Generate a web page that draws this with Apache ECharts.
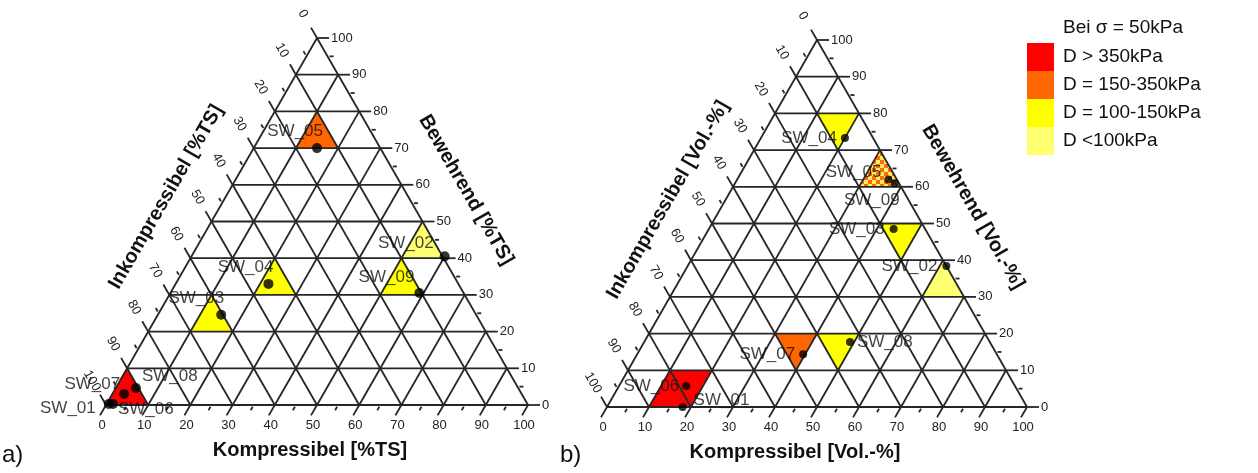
<!DOCTYPE html>
<html>
<head>
<meta charset="UTF-8">
<title>Dreiecksdiagramme</title>
<script src="https://cdn.jsdelivr.net/npm/echarts@6/dist/echarts.min.js"></script>
<style>
    html, body { margin: 0; padding: 0; background: #fff; }
    #chart { width: 1258px; height: 473px; }
</style>
</head>
<body>
<div id="chart"></div>
<script>
    // Achsenteilung (alle drei Seiten)
    const majorTicks = [0, 10, 20, 30, 40, 50, 60, 70, 80, 90, 100];
    const minorTicks = [5, 15, 25, 35, 45, 55, 65, 75, 85, 95];

    // a) Anteile in %TS  (Inkompressibel = 100 - K - B)
    const namesA = ['SW_01', 'SW_06', 'SW_07', 'SW_08', 'SW_03', 'SW_04', 'SW_09', 'SW_02', 'SW_05'];
    const kompA  = [0.5, 1.5, 2.8, 4.8, 15, 22, 59, 60, 15];
    const bewA   = [0.3, 0.3, 3, 4.6, 24.6, 33, 30.5, 40.5, 70];

    // b) Anteile in Vol.-%
    const namesB = ['SW_01', 'SW_06', 'SW_07', 'SW_08', 'SW_02', 'SW_03', 'SW_09', 'SW_05', 'SW_04'];
    const kompB  = [18, 16, 39.5, 49, 61.6, 44, 38, 36, 20];
    const bewB   = [0, 5.7, 14.4, 17.7, 38.4, 48.5, 61, 62, 73.3];

    // Felder (Ecken als [Kompressibel, Bewehrend]) und Klasse
    const cellsA = [
        [[0, 0], [10, 0], [0, 10]],
        [[10, 20], [20, 20], [10, 30]],
        [[20, 30], [30, 30], [20, 40]],
        [[50, 30], [60, 30], [50, 40]],
        [[50, 40], [60, 40], [50, 50]],
        [[10, 70], [20, 70], [10, 80]]
    ];
    const classA = ['gt350', '100-150', '100-150', '100-150', 'lt100', '150-350'];

    const cellsB = [
        [[10, 0], [20, 0], [20, 10], [10, 10]],
        [[30, 20], [40, 20], [40, 10]],
        [[40, 20], [50, 20], [50, 10]],
        [[60, 30], [70, 30], [60, 40]],
        [[40, 50], [50, 50], [50, 40]],
        [[30, 60], [40, 60], [30, 70]],
        [[10, 80], [20, 80], [20, 70]]
    ];
    const classB = ['gt350', '150-350', '100-150', 'lt100', '100-150', 'mixed', '100-150'];

    const legendTitle = 'Bei \u03c3 = 50kPa';
    const legendClasses = ['gt350', '150-350', '100-150', 'lt100'];
    const legendLabels = ['D > 350kPa', 'D = 150-350kPa', 'D = 100-150kPa', 'D <100kPa'];

    // Beschriftungen der Punkte: [Ausrichtung, dx, dy]
    const placeA = {
        SW_05: ['right', 6, -17], SW_02: ['right', -11, -13], SW_09: ['right', -5, -16],
        SW_04: ['right', 5, -17], SW_03: ['right', 3, -16], SW_01: ['right', -13, 4],
        SW_07: ['right', -4, -10], SW_08: ['left', 6, -12], SW_06: ['left', 5, 5]
    };
    const placeB = {
        SW_04: ['right', -8, 0], SW_05: ['right', -7, -7], SW_09: ['right', 5, 17],
        SW_03: ['right', -9, 0], SW_02: ['right', -9, 0], SW_08: ['left', 7, 0],
        SW_07: ['right', -8, 0], SW_06: ['right', -7, 0], SW_01: ['left', 11, -7]
    };

    const FONT = '"Liberation Sans", Arial, sans-serif';
    const LINE = '#262626';
    const H = Math.sqrt(3) / 2;

    // Schachbrett fuer gemischte Klasse
    const pat = document.createElement('canvas');
    pat.width = 8; pat.height = 8;
    const pc = pat.getContext('2d');
    pc.fillStyle = '#ffef5a'; pc.fillRect(0, 0, 8, 8);
    pc.fillStyle = '#ff6a10'; pc.fillRect(0, 0, 4, 4); pc.fillRect(4, 4, 4, 4);

    const classColor = {
        'gt350': '#ff0000',
        '150-350': '#ff6600',
        '100-150': '#ffff00',
        'lt100': '#ffff72',
        'mixed': { image: pat, repeat: 'repeat' }
    };

    function toXY(k, b) {
        return [k + b / 2, b * H];
    }

    function frameItem(params, api) {
        const v = api.value(0);
        const major = api.value(1) === 1;
        const P = (k, b) => api.coord(toXY(k, b));
        const len = major ? 12 : 6;
        const off = major ? 0 : 2;
        const out = [];
        const seg = (p, q) => out.push({
            type: 'line', shape: { x1: p[0], y1: p[1], x2: q[0], y2: q[1] },
            style: { stroke: LINE, lineWidth: 1.8 }
        });

        const bl = P(0, v), br = P(100 - v, v);          // Bewehrend = v
        const kb = P(v, 0), kt = P(v, 100 - v);          // Kompressibel = v
        const il = P(0, 100 - v), ib = P(100 - v, 0);    // Inkompressibel = v

        if (major && v < 100) {
            seg(bl, br);
            seg(kb, kt);
            seg(il, ib);
        }
        // Teilstriche
        seg([br[0] + off, br[1]], [br[0] + len, br[1]]);
        seg([kb[0] - 0.5 * off, kb[1] + H * off], [kb[0] - 0.5 * len, kb[1] + H * len]);
        seg([il[0] - 0.5 * off, il[1] - H * off], [il[0] - 0.5 * len, il[1] - H * len]);

        if (major) {
            const st = { fill: '#222', font: '13px ' + FONT, verticalAlign: 'middle' };
            out.push({ type: 'text', x: br[0] + len + 2, y: br[1],
                style: Object.assign({ text: String(v), align: 'left' }, st) });
            out.push({ type: 'text', x: kb[0] - 4, y: kb[1] + 20,
                style: Object.assign({ text: String(v), align: 'center' }, st) });
            out.push({ type: 'text', x: il[0] - 0.5 * 28, y: il[1] - H * 28, rotation: -Math.PI / 3,
                style: Object.assign({ text: String(v), align: 'center' }, st) });
        }
        return { type: 'group', children: out };
    }

    function cellRenderer(cells, classes) {
        return function (params, api) {
            const i = api.value(0);
            const pts = cells[i].map(c => api.coord(toXY(c[0], c[1])));
            return {
                type: 'polygon',
                shape: { points: pts },
                style: { fill: classColor[classes[i]], stroke: 'none' }
            };
        };
    }

    function pointData(names, komp, bew, place, size) {
        const half = size / 2;
        return names.map((n, i) => {
            const p = place[n];
            return {
                name: n,
                value: toXY(komp[i], bew[i]),
                label: { position: [half + p[1], half + p[2]], align: p[0] }
            };
        });
    }

    const frameData = majorTicks.map(t => [t, 1]).concat(minorTicks.map(t => [t, 0]));

    function plotSeries(idx, cells, classes, names, komp, bew, place, size) {
        return [
            {
                type: 'custom', xAxisIndex: idx, yAxisIndex: idx, z: 1, silent: true,
                renderItem: cellRenderer(cells, classes),
                data: cells.map((c, i) => [i, 0])
            },
            {
                type: 'custom', xAxisIndex: idx, yAxisIndex: idx, z: 2, silent: true,
                renderItem: frameItem, data: frameData
            },
            {
                type: 'scatter', xAxisIndex: idx, yAxisIndex: idx, z: 3,
                symbolSize: size, itemStyle: { color: '#000' },
                label: {
                    show: true, formatter: '{b}', verticalAlign: 'middle',
                    fontSize: 17, color: '#111', fontFamily: FONT
                },
                data: pointData(names, komp, bew, place, size)
            }
        ];
    }

    const chart = echarts.init(document.getElementById('chart'), null, { renderer: 'canvas' });

    const axisX = i => ({ gridIndex: i, type: 'value', min: 0, max: 100, show: false });
    const axisY = i => ({ gridIndex: i, type: 'value', min: 0, max: 100 * H, show: false });

    const title = (text, x, y, rot) => ({
        type: 'text', x: x, y: y, rotation: rot || 0,
        style: { text: text, font: 'bold 20px ' + FONT, fill: '#111', align: 'center', verticalAlign: 'middle' }
    });

    const graphics = [
        title('Kompressibel [%TS]', 310, 450),
        title('Inkompressibel [%TS]', 166, 197, Math.PI / 3),
        title('Bewehrend [%TS]', 466, 190, -Math.PI / 3),
        title('Kompressibel [Vol.-%]', 795, 452),
        title('Inkompressibel [Vol.-%]', 668, 200, Math.PI / 3),
        title('Bewehrend [Vol.-%]', 973, 207, -Math.PI / 3),
        { type: 'text', x: 2, y: 455, style: { text: 'a)', font: '24px ' + FONT, fill: '#111', verticalAlign: 'middle' } },
        { type: 'text', x: 560, y: 455, style: { text: 'b)', font: '24px ' + FONT, fill: '#111', verticalAlign: 'middle' } },
        { type: 'text', x: 1063, y: 28, style: { text: legendTitle, font: '19px ' + FONT, fill: '#111', verticalAlign: 'middle' } }
    ];
    legendClasses.forEach((c, i) => {
        graphics.push({ type: 'rect', shape: { x: 1027, y: 43 + i * 28, width: 27, height: 28 },
            style: { fill: classColor[c] } });
        graphics.push({ type: 'text', x: 1063, y: 57 + i * 28,
            style: { text: legendLabels[i], font: '19px ' + FONT, fill: '#111', verticalAlign: 'middle' } });
    });

    chart.setOption({
        backgroundColor: '#fff',
        animation: false,
        grid: [
            { left: 106, top: 38, width: 422, height: 367 },
            { left: 607, top: 40, width: 420, height: 367 }
        ],
        xAxis: [axisX(0), axisX(1)],
        yAxis: [axisY(0), axisY(1)],
        graphic: graphics,
        series: plotSeries(0, cellsA, classA, namesA, kompA, bewA, placeA, 10)
            .concat(plotSeries(1, cellsB, classB, namesB, kompB, bewB, placeB, 8))
    });

    window.addEventListener('resize', function () {
        chart.resize();
    });
</script>
</body>
</html>
